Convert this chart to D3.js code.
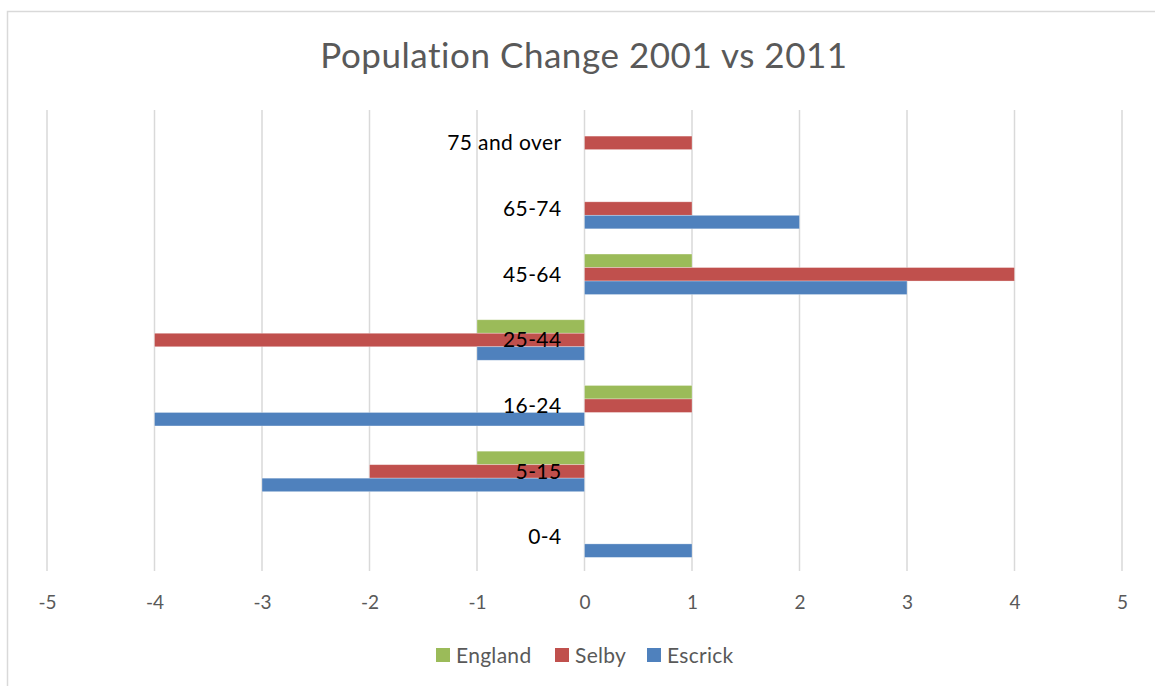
<!DOCTYPE html>
<html><head><meta charset="utf-8">
<script src="https://cdn.jsdelivr.net/npm/d3@7"></script>
<style>body{margin:0;background:#fff;} svg{display:block;font-family:Lato,"Open Sans",sans-serif;}</style>
</head><body>
<svg id="c" width="1155" height="686"></svg>
<script>
const categories = ["0-4","5-15","16-24","25-44","45-64","65-74","75 and over"];
const seriesNames = ["England","Selby","Escrick"];
const england = [0,-1,1,-1,1,0,0];
const selby   = [0,-2,1,-4,4,1,1];
const escrick = [1,-3,-4,-1,3,2,0];
const xTicks = [-5,-4,-3,-2,-1,0,1,2,3,4,5];
const colors = {England:"#9BBB59", Selby:"#C0504D", Escrick:"#4F81BD"};
const title = "Population Change 2001 vs 2011";

const values = {England: england, Selby: selby, Escrick: escrick};
const svg = d3.select("#c");

// chart border
svg.append("rect").attr("x",7.5).attr("y",11.5).attr("width",1160).attr("height",700)
  .attr("fill","none").attr("stroke","#d9d9d9").attr("stroke-width",1.5);

const x = d3.scaleLinear().domain([-5,5]).range([47,1122]);
const y = d3.scaleBand().domain(categories.slice().reverse()).range([110,570]);
const inner = d3.scaleBand().domain(seriesNames).range([-20.25,20.25]);

// gridlines
svg.append("g").selectAll("line").data(xTicks).join("line")
  .attr("x1",d=>x(d)).attr("x2",d=>x(d)).attr("y1",110).attr("y2",571)
  .attr("stroke","#d9d9d9").attr("stroke-width",1.5);

// bars
const data = [];
categories.forEach((c,i)=>seriesNames.forEach(s=>data.push({c, s, v: values[s][i]})));
svg.append("g").selectAll("rect").data(data.filter(d=>d.v!==0)).join("rect")
  .attr("x",d=>x(Math.min(0,d.v)))
  .attr("width",d=>Math.abs(x(d.v)-x(0)))
  .attr("y",d=>y(d.c)+y.bandwidth()/2+inner(d.s))
  .attr("height",inner.bandwidth())
  .attr("fill",d=>colors[d.s])
  .attr("stroke","#ffffff").attr("stroke-opacity",0.4).attr("stroke-width",0.75);

// category labels
svg.append("g").selectAll("text").data(categories).join("text")
  .attr("x",x(0)-23).attr("y",d=>y(d)+y.bandwidth()/2)
  .attr("dy","0.35em").attr("text-anchor","end")
  .attr("font-size",21).attr("letter-spacing",0.4).attr("fill","#000").text(d=>d);

// x axis tick labels
const xAxis = d3.axisBottom(x).tickValues(xTicks).tickSize(0).tickPadding(0).tickFormat(d=>String(d));
const gx = svg.append("g").attr("transform","translate(0,595)").call(xAxis);
gx.select(".domain").remove();
gx.selectAll("text").attr("font-size",19).attr("fill","#595959").attr("font-family","Lato,'Open Sans',sans-serif").attr("dy","0.71em");

// title
const t = svg.append("text").attr("x",584).attr("y",68).attr("text-anchor","middle")
  .attr("font-size",35).attr("fill","#595959").text(title);
const tw = t.node().getComputedTextLength();
t.attr("letter-spacing", Math.max(0,(528-tw)/title.length));

// legend
const legendX = [436,555,647];
const lg = svg.append("g").selectAll("g").data(seriesNames).join("g")
  .attr("transform",(d,i)=>`translate(${legendX[i]},648)`);
lg.append("rect").attr("width",14).attr("height",14).attr("fill",d=>colors[d]);
lg.append("text").attr("x",20).attr("y",7).attr("dy","0.36em")
  .attr("font-size",21).attr("letter-spacing",0.3).attr("fill","#595959").text(d=>d);
</script>
</body></html>
